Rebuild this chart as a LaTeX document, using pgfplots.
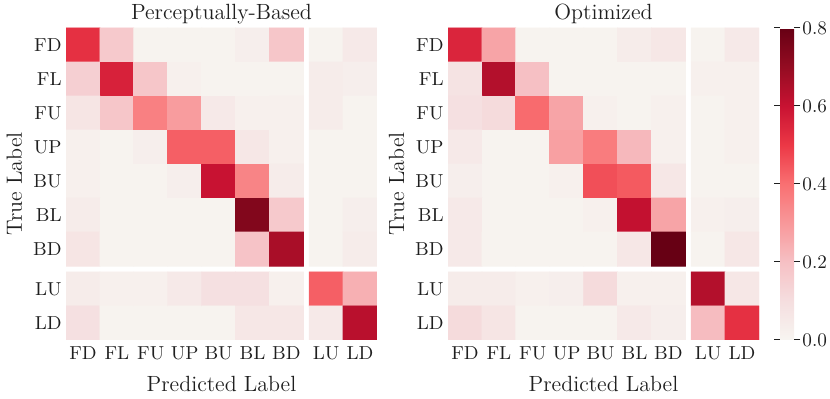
\documentclass[border=0pt]{standalone}
\usepackage{pgfplots}
\pgfplotsset{compat=1.18}
\definecolor{txt}{gray}{0.12}
\pgfplotsset{
  colormap={heat}{rgb255(0)=(247,245,241) rgb255(1)=(245,222,223) rgb255(2)=(246,192,196)
    rgb255(3)=(248,152,154) rgb255(4)=(249,112,114) rgb255(5)=(236,56,70)
    rgb255(6)=(200,18,50) rgb255(7)=(148,12,34) rgb255(8)=(103,0,20)},
  hm/.style={
    scale only axis, width=155.5pt, height=156pt,
    xmin=-0.5, xmax=8.67, ymin=-8.67, ymax=0.5,
    axis line style={draw=none}, major tick length=0pt,
    xtick={0,1,2,3,4,5,6,7.17,8.17},
    xticklabels={FD,FL,FU,UP,BU,BL,BD,LU,LD},
    ytick={-8.17,-7.17,-6,-5,-4,-3,-2,-1,0},
    yticklabels={LD,LU,BD,BL,BU,UP,FU,FL,FD},
    tick label style={font=\fontsize{9.4}{11}\selectfont},
    xticklabel style={anchor=base, yshift=-10pt, text=txt},
    yticklabel style={anchor=east, inner sep=0pt, xshift=-2pt, text=txt},
    point meta min=0, point meta max=0.8, colormap name=heat,
    every axis x label/.style={at={(axis description cs:0.5,-0.1654)}, anchor=base, text=txt},
    every axis y label/.style={at={(axis description cs:-0.1415,0.5)}, rotate=90, anchor=base, text=txt},
    every axis title/.style={at={(axis description cs:0.5,1)}, anchor=base, yshift=4pt, text=txt},
    xlabel={Predicted Label}, ylabel={True Label},
  },
  blk/.style={matrix plot*, point meta=explicit, mesh/cols=#1},
}
\begin{document}
\fontsize{11}{13.2}\selectfont
\begin{tikzpicture}
\useasboundingbox (0,0) rectangle (415pt,199.5pt);
% ---------------- Perceptually-Based ----------------
\begin{axis}[hm, at={(33pt,29.5pt)}, anchor=south west, title={Perceptually-Based}]
\addplot[blk=7] coordinates {
(0,0)[0.52] (1,0)[0.17] (2,0)[0.01] (3,0)[0.01] (4,0)[0.01] (5,0)[0.03] (6,0)[0.18]
(0,-1)[0.15] (1,-1)[0.56] (2,-1)[0.18] (3,-1)[0.02] (4,-1)[0.01] (5,-1)[0.01] (6,-1)[0.01]
(0,-2)[0.07] (1,-2)[0.18] (2,-2)[0.36] (3,-2)[0.29] (4,-2)[0.05] (5,-2)[0.02] (6,-2)[0.02]
(0,-3)[0.02] (1,-3)[0.01] (2,-3)[0.03] (3,-3)[0.43] (4,-3)[0.43] (5,-3)[0.06] (6,-3)[0.02]
(0,-4)[0.02] (1,-4)[0.01] (2,-4)[0.01] (3,-4)[0.03] (4,-4)[0.60] (5,-4)[0.35] (6,-4)[0.04]
(0,-5)[0.04] (1,-5)[0.01] (2,-5)[0.01] (3,-5)[0.01] (4,-5)[0.01] (5,-5)[0.74] (6,-5)[0.17]
(0,-6)[0.07] (1,-6)[0.01] (2,-6)[0.01] (3,-6)[0.01] (4,-6)[0.01] (5,-6)[0.19] (6,-6)[0.66]
};
\addplot[blk=2] coordinates {
(7.17,0)[0.01] (8.17,0)[0.05]
(7.17,-1)[0.04] (8.17,-1)[0.03]
(7.17,-2)[0.04] (8.17,-2)[0.01]
(7.17,-3)[0.01] (8.17,-3)[0.01]
(7.17,-4)[0.01] (8.17,-4)[0.01]
(7.17,-5)[0.01] (8.17,-5)[0.03]
(7.17,-6)[0.01] (8.17,-6)[0.04]
};
\addplot[blk=7] coordinates {
(0,-7.17)[0.04] (1,-7.17)[0.02] (2,-7.17)[0.02] (3,-7.17)[0.05] (4,-7.17)[0.09] (5,-7.17)[0.09] (6,-7.17)[0.02]
(0,-8.17)[0.09] (1,-8.17)[0.01] (2,-8.17)[0.01] (3,-8.17)[0.01] (4,-8.17)[0.01] (5,-8.17)[0.06] (6,-8.17)[0.06]
};
\addplot[blk=2] coordinates {
(7.17,-7.17)[0.43] (8.17,-7.17)[0.24]
(7.17,-8.17)[0.05] (8.17,-8.17)[0.63]
};
\end{axis}
% ---------------- Optimized ----------------
\begin{axis}[hm, at={(224pt,29.5pt)}, anchor=south west, title={Optimized},
  colorbar,
  colorbar style={
    at={(parent axis.south east)}, anchor=south west, xshift=2pt,
    scale only axis, width=7pt, height=156pt,
    ymin=0, ymax=0.8,
    ytick={0,0.2,0.4,0.6,0.8},
    yticklabels={0.0,0.2,0.4,0.6,0.8},
    tick label style={font=\fontsize{9.6}{11}\selectfont},
    yticklabel style={anchor=west, xshift=0pt, inner sep=1pt, text=txt},
    axis line style={draw=none},
    tick align=outside, major tick length=3pt,
    major tick style={draw=txt, line width=0.5pt},
  }]
\addplot[blk=7] coordinates {
(0,0)[0.55] (1,0)[0.27] (2,0)[0.01] (3,0)[0.01] (4,0)[0.01] (5,0)[0.04] (6,0)[0.06]
(0,-1)[0.08] (1,-1)[0.64] (2,-1)[0.20] (3,-1)[0.01] (4,-1)[0.01] (5,-1)[0.01] (6,-1)[0.01]
(0,-2)[0.09] (1,-2)[0.11] (2,-2)[0.41] (3,-2)[0.27] (4,-2)[0.02] (5,-2)[0.01] (6,-2)[0.02]
(0,-3)[0.05] (1,-3)[0.01] (2,-3)[0.01] (3,-3)[0.28] (4,-3)[0.37] (5,-3)[0.22] (6,-3)[0.02]
(0,-4)[0.03] (1,-4)[0.01] (2,-4)[0.01] (3,-4)[0.02] (4,-4)[0.46] (5,-4)[0.44] (6,-4)[0.06]
(0,-5)[0.05] (1,-5)[0.01] (2,-5)[0.01] (3,-5)[0.01] (4,-5)[0.02] (5,-5)[0.61] (6,-5)[0.27]
(0,-6)[0.05] (1,-6)[0.01] (2,-6)[0.01] (3,-6)[0.01] (4,-6)[0.01] (5,-6)[0.06] (6,-6)[0.80]
};
\addplot[blk=2] coordinates {
(7.17,0)[0.01] (8.17,0)[0.05]
(7.17,-1)[0.02] (8.17,-1)[0.02]
(7.17,-2)[0.01] (8.17,-2)[0.02]
(7.17,-3)[0.01] (8.17,-3)[0.02]
(7.17,-4)[0.01] (8.17,-4)[0.01]
(7.17,-5)[0.02] (8.17,-5)[0.03]
(7.17,-6)[0.01] (8.17,-6)[0.06]
};
\addplot[blk=7] coordinates {
(0,-7.17)[0.04] (1,-7.17)[0.04] (2,-7.17)[0.02] (3,-7.17)[0.03] (4,-7.17)[0.11] (5,-7.17)[0.02] (6,-7.17)[0.02]
(0,-8.17)[0.11] (1,-8.17)[0.07] (2,-8.17)[0.01] (3,-8.17)[0.01] (4,-8.17)[0.01] (5,-8.17)[0.05] (6,-8.17)[0.03]
};
\addplot[blk=2] coordinates {
(7.17,-7.17)[0.64] (8.17,-7.17)[0.06]
(7.17,-8.17)[0.21] (8.17,-8.17)[0.52]
};
\end{axis}
\end{tikzpicture}
\end{document}
